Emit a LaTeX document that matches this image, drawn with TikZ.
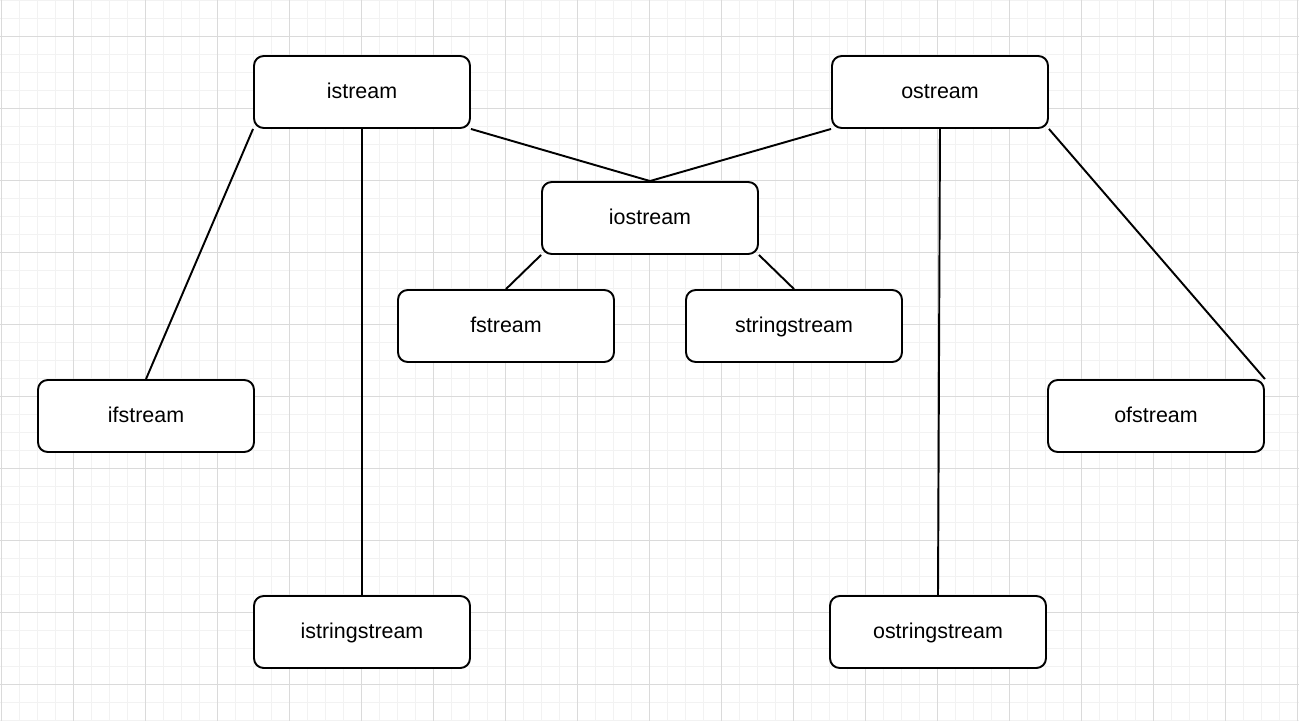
\documentclass[tikz,border=0pt]{standalone}
\usepackage{fontspec}
\setmainfont{Liberation Sans}
\definecolor{gridminor}{HTML}{F2F2F2}
\definecolor{gridmajor}{HTML}{DADADA}
\tikzset{
  cls/.style={
    draw, rounded corners=5.5pt, line width=1.1pt,
    minimum width=4.32cm, minimum height=1.44cm,
    text height=1.6ex, text depth=0.3ex,
    inner sep=0pt, font=\fontsize{12.2}{14}\selectfont, fill=white
  },
  link/.style={line width=1.1pt}
}

\begin{document}
\begin{tikzpicture}[x=0.02cm,y=-0.02cm]
\useasboundingbox (0,0) rectangle (1299,721);
\fill[white] (0,0) rectangle (1299,721);

\foreach \gx in {1,19,...,1299} \draw[gridminor,line width=0.55pt] (\gx,0) -- (\gx,721);
\foreach \gy in {0,18,...,721} \draw[gridminor,line width=0.55pt] (0,\gy) -- (1299,\gy);
\foreach \gx in {1,73,...,1299} \draw[gridmajor,line width=0.55pt] (\gx,0) -- (\gx,721);
\foreach \gy in {36,108,...,721} \draw[gridmajor,line width=0.55pt] (0,\gy) -- (1299,\gy);

\node[cls] (istream) at (362,92) {istream};
\node[cls] (ostream) at (940,92) {ostream};
\node[cls] (iostream) at (650,218) {iostream};
\node[cls] (fstream) at (506,326) {fstream};
\node[cls] (sstream) at (794,326) {stringstream};
\node[cls] (ifstream) at (146,416) {ifstream};
\node[cls] (ofstream) at (1156,416) {ofstream};
\node[cls] (isstream) at (362,632) {istringstream};
\node[cls] (osstream) at (938,632) {ostringstream};

\draw[link] (istream.south east) -- (iostream.north);
\draw[link] (ostream.south west) -- (iostream.north);
\draw[link] (istream.south west) -- (ifstream.north);
\draw[link] (istream.south) -- (isstream.north);
\draw[link] (ostream.south) -- (osstream.north);
\draw[link] (ostream.south east) -- (ofstream.north east);
\draw[link] (iostream.south west) -- (fstream.north);
\draw[link] (iostream.south east) -- (sstream.north);
\end{tikzpicture}
\end{document}
